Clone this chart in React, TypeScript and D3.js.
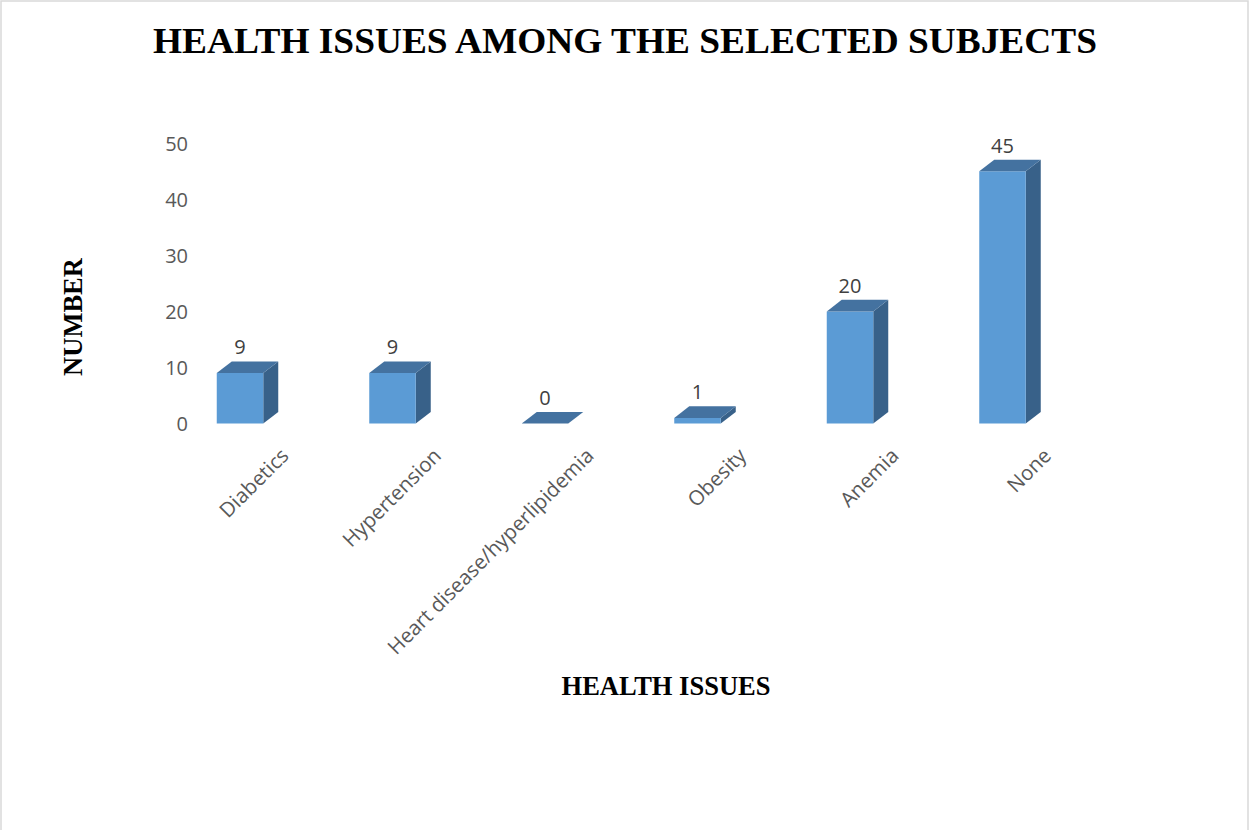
import React from "react";
import * as d3 from "d3";

const categories = ["Diabetics", "Hypertension", "Heart disease/hyperlipidemia", "Obesity", "Anemia", "None"];
const values = [9, 9, 0, 1, 20, 45];
const yTicks = [0, 10, 20, 30, 40, 50];
const title = "HEALTH ISSUES AMONG THE SELECTED SUBJECTS";
const xTitle = "HEALTH ISSUES";
const yTitle = "NUMBER";

const W = 1249;
const H = 830;

export default function App() {
  const x = d3.scaleBand<string>().domain(categories).range([163.75, 1078.75]).paddingInner(0.695).paddingOuter(0.3475);
  const y = d3.scaleLinear().domain([0, 50]).range([423.5, 143.3]);
  const bw = 46.5;
  const dx = 15;
  const dy = 11.6;
  const sans = "'Open Sans', 'DejaVu Sans', sans-serif";
  const serif = "'Liberation Serif', 'Times New Roman', serif";

  return (
    <div style={{ position: "absolute", left: 0, top: 0 }}>
      <svg width={W} height={H} style={{ display: "block" }}>
        <rect x={0} y={0} width={W} height={H} fill="#fff" />
        <rect x={1} y={1} width={W - 2} height={H + 10} fill="none" stroke="#D9D9D9" strokeWidth={1.5} />
        <text x={625} y={53} textAnchor="middle" fontFamily={serif} fontWeight="bold" fontSize={35} textLength={944} lengthAdjust="spacingAndGlyphs" fill="#000">
          {title}
        </text>
        {yTicks.map((t) => (
          <text key={t} x={188} y={y(t)} dy="0.36em" textAnchor="end" fontFamily={sans} fontSize={20} fill="#595959">
            {t}
          </text>
        ))}
        {categories.map((c, i) => {
          const v = values[i];
          const cx = (x(c) as number) + x.bandwidth() / 2;
          const x0 = cx - bw / 2;
          const x1 = cx + bw / 2;
          const yt = y(v);
          const yb = y(0);
          const front = `M${x0},${yt}L${x1},${yt}L${x1},${yb}L${x0},${yb}Z`;
          const side = `M${x1},${yt}L${x1 + dx},${yt - dy}L${x1 + dx},${yb - dy}L${x1},${yb}Z`;
          const top = `M${x0},${yt}L${x0 + dx},${yt - dy}L${x1 + dx},${yt - dy}L${x1},${yt}Z`;
          return (
            <g key={c}>
              {v > 0 && <path d={side} fill="#386189" />}
              {v > 0 && <path d={front} fill="#5B9BD5" />}
              <path d={top} fill="#4472A0" />
              <text x={cx} y={yt - dy - 7} textAnchor="middle" fontFamily={sans} fontSize={20} fill="#404040">
                {v}
              </text>
              <text
                transform={`translate(${cx + 50},${457}) rotate(-45)`}
                textAnchor="end"
                fontFamily={sans}
                fontSize={20.5}
                fill="#595959"
              >
                {c}
              </text>
            </g>
          );
        })}
        <text transform={`translate(82,317) rotate(-90)`} textAnchor="middle" fontFamily={serif} fontWeight="bold" fontSize={26.5} fill="#000">
          {yTitle}
        </text>
        <text x={666} y={695} textAnchor="middle" fontFamily={serif} fontWeight="bold" fontSize={26.5} fill="#000">
          {xTitle}
        </text>
      </svg>
    </div>
  );
}
